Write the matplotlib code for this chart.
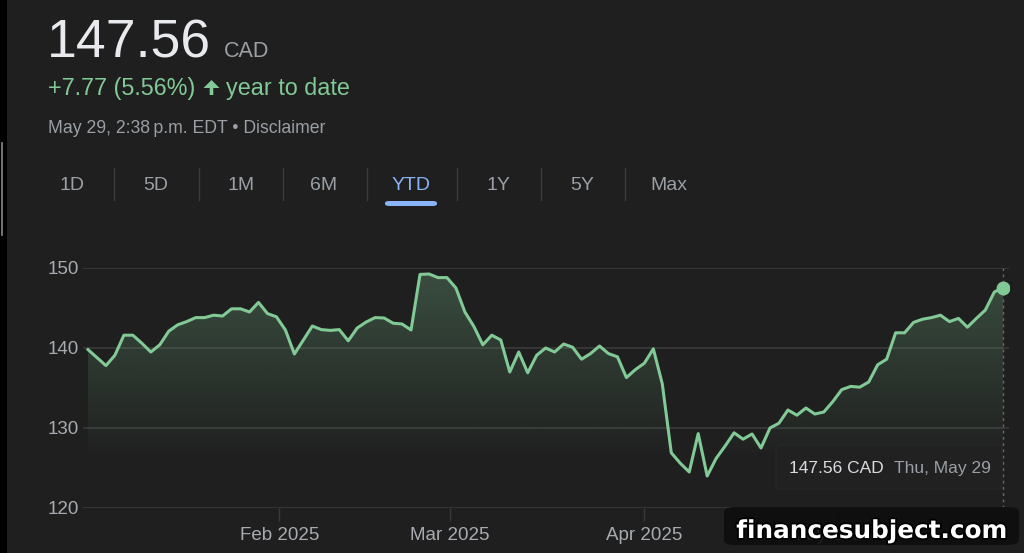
import matplotlib.pyplot as plt
import matplotlib.patheffects as pe
from matplotlib.patches import FancyBboxPatch, Rectangle, Polygon
import numpy as np
import pandas as pd

# TSX trading days, Jan 2 - May 29 2025
holidays = ['2025-02-17', '2025-04-18', '2025-05-19']
dates = pd.bdate_range('2025-01-02', '2025-05-29', freq='C', holidays=holidays)

prices = [
    139.8, 138.8, 137.8, 139.1, 141.6, 141.6, 140.6, 139.5, 140.4, 142.1,
    142.9, 143.3, 143.8, 143.8, 144.1, 144.0, 144.9, 144.9, 144.5, 145.7,
    144.3, 143.9, 142.25, 139.25, 141.0, 142.75, 142.3, 142.2, 142.3, 140.9,
    142.5, 143.25, 143.8, 143.75, 143.1, 143.0, 142.25, 149.2, 149.25, 148.8,
    148.8, 147.5, 144.5, 142.7, 140.4, 141.6, 141.0, 137.0, 139.5, 136.9,
    139.1, 140.0, 139.5, 140.5, 140.1, 138.6, 139.3, 140.25, 139.3, 138.9,
    136.3, 137.3, 138.1, 139.9, 135.5, 126.9, 125.6, 124.5, 129.3, 124.0,
    126.2, 127.75, 129.4, 128.6, 129.25, 127.5, 130.0, 130.6, 132.25, 131.6,
    132.5, 131.75, 132.0, 133.3, 134.8, 135.2, 135.1, 135.75, 137.9, 138.6,
    141.9, 141.9, 143.2, 143.6, 143.8, 144.1, 143.3, 143.7, 142.6, 143.7,
    144.75, 147.0, 147.56,
]

y_ticks = [120, 130, 140, 150]
month_starts = ['2025-02-01', '2025-03-01', '2025-04-01', '2025-05-01']
month_labels = ['Feb 2025', 'Mar 2025', 'Apr 2025', 'May 2025']
tabs = ['1D', '5D', '1M', '6M', 'YTD', '1Y', '5Y', 'Max']
tab_x = [72, 156, 241, 324, 411, 498, 582, 669]
sep_x = [114, 199, 283, 367, 457, 541, 625]

BG = '#1f1f1f'
GREEN = '#81c995'
GRAY = '#9aa0a6'
GRID = '#3a3a3a'
FONT = ['Liberation Sans', 'DejaVu Sans']

W, H = 1024, 553
fig = plt.figure(figsize=(W / 100, H / 100), dpi=100, facecolor=BG)


def fx(x):
    return x / W


def fy(y):
    return 1 - y / H


# left dark strip
fig.patches.append(Rectangle((0, 0), fx(7), 1, transform=fig.transFigure,
                             facecolor='#000000', edgecolor='none'))
fig.lines.append(plt.Line2D([fx(1.5), fx(1.5)], [fy(143), fy(235)],
                            transform=fig.transFigure, color='#8a8a8a', lw=1.2))

# header
fig.text(fx(47), fy(57), '147.56', fontsize=38.5, color='#e8eaed',
         family=FONT, va='baseline')
fig.text(fx(224), fy(57), 'CAD', fontsize=15.5, color=GRAY,
         family=FONT, va='baseline')
fig.text(fx(48), fy(95), '+7.77 (5.56%)', fontsize=16.8,
         color=GREEN, family=FONT, va='baseline')
fig.patches.append(Polygon(
    [(fx(x), fy(y)) for x, y in [(211.5, 80), (219.5, 88), (213.3, 88), (213.3, 95),
                                 (209.7, 95), (209.7, 88), (203.5, 88)]],
    closed=True, transform=fig.transFigure, facecolor=GREEN, edgecolor='none'))
fig.text(fx(226), fy(95), 'year to date', fontsize=16.8,
         color=GREEN, family=FONT, va='baseline')
fig.text(fx(48), fy(133), 'May 29, 2:38\u2009p.m. EDT \u2022 Disclaimer',
         fontsize=12.7, color=GRAY, family=FONT, va='baseline')

# range tabs
for label, x in zip(tabs, tab_x):
    c = '#8ab4f8' if label == 'YTD' else GRAY
    fig.text(fx(x), fy(190), label, fontsize=14, color=c, family=FONT,
             ha='center', va='baseline')
for x in sep_x:
    fig.lines.append(plt.Line2D([fx(x), fx(x)], [fy(168), fy(200)],
                                transform=fig.transFigure, color='#3c3c3c', lw=1))
fig.patches.append(FancyBboxPatch((fx(385), fy(206)), fx(52), (5 / H),
                                  boxstyle='round,pad=0,rounding_size=0.004',
                                  transform=fig.transFigure,
                                  facecolor='#8ab4f8', edgecolor='none'))

# chart axes: gridline 150 at y=268, 120 at y=508; index 0 at x=88, last at x=1003
n = len(prices)
xs = np.arange(n)
ppx = (1003.3 - 88) / (n - 1)
x_left = -(88 - 83) / ppx
x_right = (n - 1) + (1009 - 1003.3) / ppx
ax = fig.add_axes([fx(83), fy(508), fx(1009 - 83), (508 - 268) / H])
ax.set_facecolor(BG)
ax.set_xlim(x_left, x_right)
ax.set_ylim(120, 150)
for s in ax.spines.values():
    s.set_visible(False)
ax.set_yticks(y_ticks)
ax.grid(axis='y', color=GRID, lw=1.2)
ax.set_axisbelow(True)
ax.tick_params(axis='y', length=0, pad=3, labelsize=13.5, labelcolor='#a8abb0')
for t in ax.get_yticklabels():
    t.set_family(FONT)

ords = dates.map(pd.Timestamp.toordinal).values.astype(float)
mpos = [np.interp(pd.Timestamp(m).toordinal(), ords, xs) for m in month_starts]
ax.set_xticks(mpos)
ax.set_xticklabels(month_labels)
ax.tick_params(axis='x', length=9, width=1, color=GRID, pad=5,
               labelsize=13.5, labelcolor='#a8abb0')
for t in ax.get_xticklabels():
    t.set_family(FONT)

# gradient fill under the line
poly = ax.fill_between(xs, prices, 120, facecolor='none', edgecolor='none')
grad = np.zeros((256, 1, 4))
vals = np.linspace(150, 120, 256)
alpha = np.clip((vals - 127) / (150 - 127), 0, 1) * 0.26 + np.where(vals > 127, 0.02, 0)
grad[:, 0, 0] = 0x81 / 255
grad[:, 0, 1] = 0xc9 / 255
grad[:, 0, 2] = 0x95 / 255
grad[:, 0, 3] = alpha
img = ax.imshow(grad, extent=[0, n - 1, 120, 150], aspect='auto',
                origin='upper', zorder=1)
img.set_clip_path(poly.get_paths()[0], transform=ax.transData)
ax.set_xlim(x_left, x_right)
ax.set_ylim(120, 150)

ax.plot(xs, prices, color=GREEN, lw=2.2, zorder=3, solid_joinstyle='round')
ax.axvline(n - 1, color='#6a6a6a', lw=1, ls=(0, (2, 2.5)), zorder=2)
ax.plot(xs[-1], prices[-1], 'o', color=GREEN, ms=9, zorder=4)

# tooltip
fig.patches.append(FancyBboxPatch((fx(776), fy(489)), fx(226), 44 / H,
                                  boxstyle='round,pad=0,rounding_size=0.006',
                                  transform=fig.transFigure,
                                  facecolor='#212121', edgecolor='#262626', lw=1))
fig.text(fx(789), fy(473), '147.56 CAD', fontsize=12.5, color='#dadce0',
         family=FONT, va='baseline')
fig.text(fx(894), fy(473), 'Thu, May 29', fontsize=12.5, color=GRAY,
         family=FONT, va='baseline')

# watermark
fig.patches.append(FancyBboxPatch((fx(724), fy(545)), fx(295), 38 / H,
                                  boxstyle='round,pad=0,rounding_size=0.01',
                                  transform=fig.transFigure,
                                  facecolor='#0d0d0d', alpha=0.88,
                                  edgecolor='none', zorder=5))
fig.text(fx(872.5), fy(538), 'financesubject.com', fontsize=17.8, color='white',
         family='DejaVu Sans', weight='bold', ha='center', va='baseline',
         zorder=6, path_effects=[pe.withStroke(linewidth=2.5, foreground='black')])

fig.savefig('out.png', dpi=100, facecolor=BG)
